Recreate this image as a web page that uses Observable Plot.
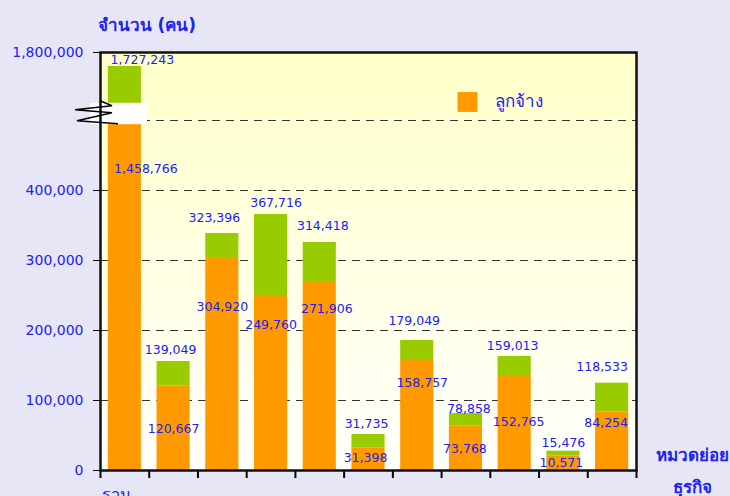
<!DOCTYPE html>
<html><head><meta charset="utf-8">
<script src="https://cdn.jsdelivr.net/npm/d3@7"></script>
<script src="https://cdn.jsdelivr.net/npm/@observablehq/plot@0.6"></script>
<style>
html,body{margin:0;padding:0;background:#E6E6F7;}
#chart svg{display:block;}
g[aria-label^="y-axis"] text{fill:#2121F2;}
</style></head><body><div id="chart"></div>
<script>
// ---- data ----
const categories = ["รวม","หมวด 2","หมวด 3","หมวด 4","หมวด 5","หมวด 6","หมวด 7","หมวด 8","หมวด 9","หมวด 10","หมวด 11"];
const employeeValues = [1458766, 120500, 303000, 248600, 270000, 31900, 158600, 63300, 135700, 20500, 83300];
const totalValues    = [1727243, 155700, 338600, 365700, 325700, 51400, 185700, 81400, 162900, 27600, 124800];
const totalLabels    = [1727243, 139049, 323396, 367716, 314418, 31735, 179049, 78858, 159013, 15476, 118533];
const employeeLabels = [1458766, 120667, 304920, 249760, 271906, 31398, 158757, 73768, 152765, 10571, 84254];
const yTicks = [0, 100000, 200000, 300000, 400000, 1800000];
const gridValues = [100000, 200000, 300000, 400000, 500000];
const yBreak = [494000, 1536000];
const legendLabel = "ลูกจ้าง";
const yTitle = "จำนวน (คน)";
const xTitle = ["หมวดย่อย", "ธุรกิจ"];

// ---- layout / style ----
const W = 730, H = 496, mL = 100, mR = 94, mT = 52, mB = 26;
// broken axis: raw values -> display units (compressed above the break)
const brk = d3.scaleLinear().domain([0, 500000, 1500000, 1800000]).range([0, 500000, 514700, 597143]);
const upDx = [17.5, -3, -8, 5, 3, -2, -3, 3, -2, 0, -10];
const upDy = [-6, -12, -15, -12, -17, -11, -20, -5, -10, -8, -16];
const loDx = [21, 0, 0, 0, 7, -3, 5, -1, 4, -2, -6];
const loDy = [58.5, 43.3, 48.3, 29, 27, 10, 24, 23, 46.7, 7, 11];
const BLUE = "#2121F2", ORANGE = "#FF9900", GREEN = "#99CC00";
const step = (W - mL - mR) / categories.length;
const fmt = d3.format(",");

const idx = d3.range(categories.length);
const labelMarks = [];
idx.forEach(i => {
  labelMarks.push(Plot.text([i], {x: j => categories[j], y: j => brk(totalValues[j]), text: j => fmt(totalLabels[j]),
    dx: upDx[i], dy: upDy[i], fill: BLUE, fontSize: 12.5}));
  labelMarks.push(Plot.text([i], {x: j => categories[j], y: j => brk(employeeValues[j]), text: j => fmt(employeeLabels[j]),
    dx: loDx[i], dy: loDy[i], fill: BLUE, fontSize: 12.5}));
});

const chart = Plot.plot({
  width: W, height: H,
  marginLeft: mL, marginRight: mR, marginTop: mT, marginBottom: mB,
  style: {fontFamily: "'DejaVu Sans', Tahoma, sans-serif", fontSize: "14px", background: "transparent", color: "black", overflow: "visible"},
  x: {domain: categories, padding: 0, round: false, axis: null},
  y: {domain: [0, brk(1800000)], ticks: yTicks.map(brk), tickFormat: d => fmt(Math.round(brk.invert(d))), tickSize: 7, tickPadding: 10, label: null},
  marks: [
    Plot.frame({fill: "url(#bgGrad)", stroke: "none"}),
    Plot.ruleY(gridValues, {y: d => brk(d), stroke: "#333", strokeDasharray: "8,6", strokeWidth: 1}),
    Plot.barY(idx, {x: i => categories[i], y1: 0, y2: i => brk(employeeValues[i]), fill: ORANGE, insetLeft: 7.8, insetRight: 7.8}),
    Plot.barY(idx, {x: i => categories[i], y1: i => brk(employeeValues[i]), y2: i => brk(totalValues[i]), fill: GREEN, insetLeft: 7.8, insetRight: 7.8}),
    Plot.barY([categories[0]], {x: d => d, y1: brk(yBreak[0]), y2: brk(yBreak[1]), fill: "white", insetLeft: -10, insetRight: 1.7}),
    Plot.ruleX(categories, {x: d => d, y1: 0, y2: 0, insetBottom: -8, dx: -step / 2, stroke: "black", strokeWidth: 2}),
    Plot.ruleX([categories[categories.length - 1]], {x: d => d, y1: 0, y2: 0, insetBottom: -8, dx: step / 2, stroke: "black", strokeWidth: 2}),
    ...labelMarks,
    Plot.frame({stroke: "#111", strokeWidth: 2.5}),
    Plot.text([categories[0]], {x: d => d, frameAnchor: "bottom", dx: -8, dy: 29, fill: BLUE, fontSize: 16}),
    Plot.text([yTitle], {frameAnchor: "top-left", dx: -3, dy: -34, textAnchor: "start", fill: BLUE, fontSize: 17, fontWeight: "bold"}),
    Plot.text([xTitle[0]], {frameAnchor: "bottom-right", dx: 56, dy: -10, textAnchor: "middle", fill: BLUE, fontSize: 17, fontWeight: "bold"}),
    Plot.text([xTitle[1]], {frameAnchor: "bottom-right", dx: 56, dy: 22, textAnchor: "middle", fill: BLUE, fontSize: 17, fontWeight: "bold"}),
    Plot.dot([legendLabel], {frameAnchor: "top-left", dx: 367, dy: 49.5, symbol: "square", r: 11.2, fill: ORANGE, stroke: "none"}),
    Plot.text([legendLabel], {frameAnchor: "top-left", dx: 394, dy: 42, textAnchor: "start", fill: BLUE, fontSize: 17})
  ]
});

const svg = d3.select(chart);
svg.insert("defs", ":first-child").html('<linearGradient id="bgGrad" x1="0" y1="0" x2="0" y2="1"><stop offset="0" stop-color="#FFFFC8"/><stop offset="0.55" stop-color="#FFFFE6"/><stop offset="1" stop-color="#FFFFFA"/></linearGradient>');
// zig-zag break marker drawn from the scales
const xs = chart.scale("x"), ys = chart.scale("y");
const bx = xs.apply(categories[0]), by = ys.apply(brk(yBreak[1]));
const zz = [[0, -2], [12, 3], [-25, 7], [12, 10], [-23, 18], [18, 21]].map(([dx, dy]) => [bx + dx, by + dy]);
svg.append("path").attr("d", d3.line()(zz)).attr("fill", "none").attr("stroke", "black").attr("stroke-width", 1.5);
document.getElementById("chart").appendChild(chart);
</script></body></html>
